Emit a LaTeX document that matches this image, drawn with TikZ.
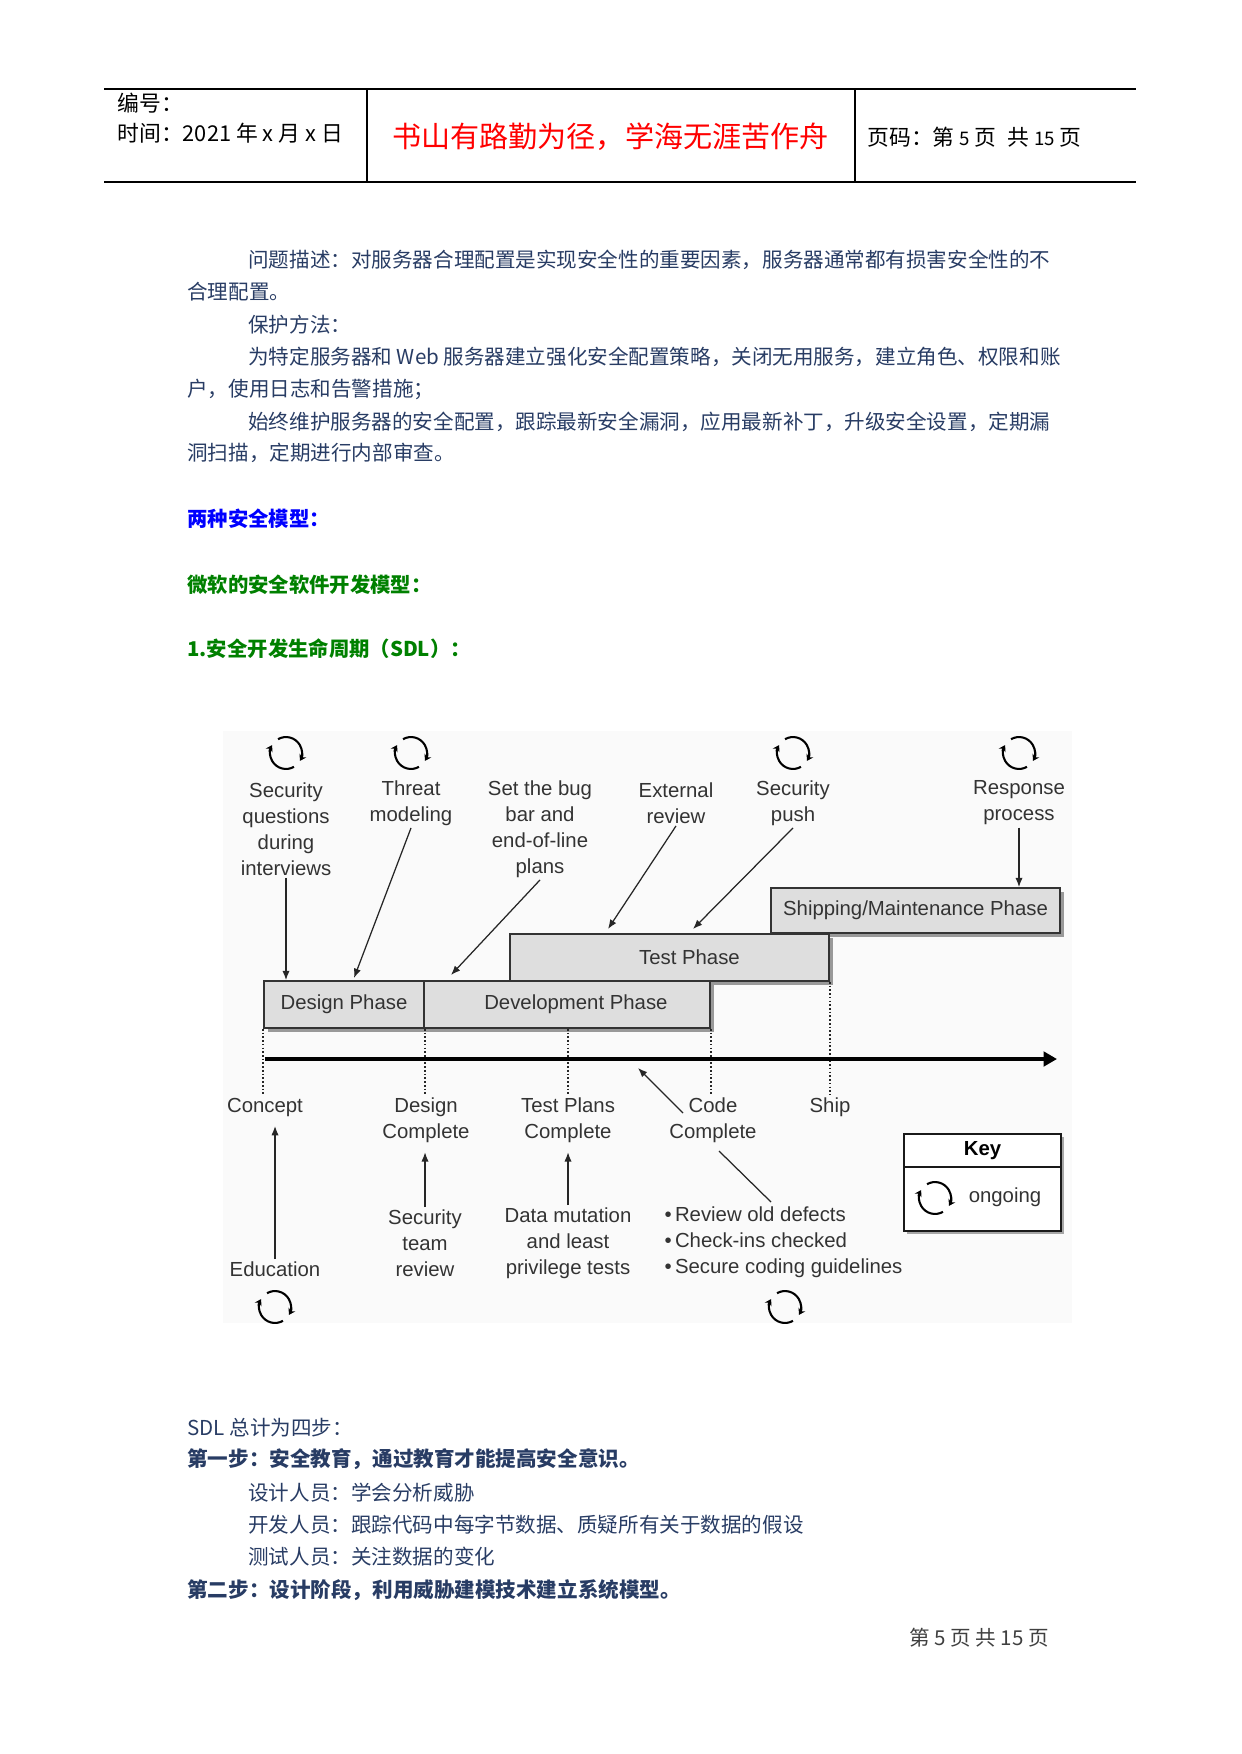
\documentclass[tikz,border=0pt]{standalone}
\usepackage{fontspec}
\setmainfont{Liberation Sans}
\newfontfamily\cjk{Noto Sans CJK SC}
\usetikzlibrary{arrows.meta,fit,shadows}
\definecolor{bodyblue}{RGB}{40,60,100}
\definecolor{mottored}{RGB}{255,0,0}
\definecolor{headblue}{RGB}{0,0,255}
\definecolor{headgreen}{RGB}{0,128,0}

\begin{document}
\begin{tikzpicture}
[
x=0.016922cm, y=-0.016922cm,
hdr/.style={font=\cjk\fontsize{10.5}{13}\selectfont, anchor=west, inner sep=0pt},
para/.style={font=\cjk\fontsize{9.9}{12}\selectfont, text=bodyblue, anchor=west, inner sep=0pt},
parab/.style={para, font=\cjk\bfseries\fontsize{9.9}{12}\selectfont},
head/.style={font=\cjk\bfseries\fontsize{9.8}{12}\selectfont, anchor=west, inner sep=0pt},
lbl/.style={font=\fontsize{9.8}{12.5}\selectfont, text=black!80, align=center, inner sep=1pt},
phasetxt/.style={font=\fontsize{9.8}{12}\selectfont, text=black!80},
phase/.style={draw=black!80, line width=0.8pt, fill=black!13, inner sep=0pt,
  drop shadow={shadow xshift=1.8pt, shadow yshift=-1.8pt, fill=black!40, opacity=1}},
keybox/.style={draw=black!90, line width=1pt, fill=white, inner sep=0pt,
  drop shadow={shadow xshift=1.5pt, shadow yshift=-1.5pt, fill=black!35, opacity=1}},
arr/.style={-{Latex[length=4.5pt,width=3.5pt]}, line width=0.6pt, draw=black!85},
tick/.style={densely dotted, line width=0.8pt, draw=black!85},
axis/.style={-{Triangle[length=6.5pt,width=7pt]}, line width=2pt},
cycline/.style={-{Stealth[length=3pt,width=3.6pt]}, line width=1pt},
cyc/.pic={
  \draw[cycline] (120:0.27cm) arc[start angle=120, end angle=-30, radius=0.27cm];
  \draw[cycline] (300:0.27cm) arc[start angle=300, end angle=150, radius=0.27cm];
},
]
\useasboundingbox (0,0) rectangle (1241,1754);

% page header
\draw[line width=0.7pt] (104,89) -- (1136,89);
\draw[line width=0.7pt] (104,182) -- (1136,182);
\draw[line width=1pt] (367,89) -- (367,182);
\draw[line width=0.6pt] (855,89) -- (855,182);
\node[hdr] (bianhao) at (117,103) {编号：};
\node[hdr] (shijian) at (117,133) {时间：2021 年 x 月 x 日};
\node[hdr, text=mottored, font=\cjk\fontsize{14}{16}\selectfont] (motto) at (392,137) {书山有路勤为径，学海无涯苦作舟};
\node[hdr] (yema) at (867,137) {页码：第 {\small 5} 页\enspace 共 {\small 15} 页};

% text above the figure
\node[para] (p1) at (248,260) {问题描述：对服务器合理配置是实现安全性的重要因素，服务器通常都有损害安全性的不};
\node[para] (p2) at (187,292) {合理配置。};
\node[para] (p3) at (248,325) {保护方法：};
\node[para] (p4) at (248,357) {为特定服务器和 Web 服务器建立强化安全配置策略，关闭无用服务，建立角色、权限和账};
\node[para] (p5) at (187,389) {户，使用日志和告警措施；};
\node[para] (p6) at (248,422) {始终维护服务器的安全配置，跟踪最新安全漏洞，应用最新补丁，升级安全设置，定期漏};
\node[para] (p7) at (187,453) {洞扫描，定期进行内部审查。};
\node[head, text=headblue] (h1) at (187,519) {两种安全模型：};
\node[head, text=headgreen] (h2) at (187,585) {微软的安全软件开发模型：};
\node[head, text=headgreen] (h3) at (187,649) {1.安全开发生命周期（SDL）：};

% SDL figure
\fill[black!2] (223,731) rectangle (1072,1323);
\pic at (286,753) {cyc};
\pic at (411,753) {cyc};
\pic at (793,753) {cyc};
\pic at (1019,753) {cyc};
\node[lbl] (secq) at (286,829) {Security\\questions\\during\\interviews};
\node[lbl] (threat) at (411,803) {Threat\\modeling};
\node[lbl] (bugbar) at (540,829) {Set the bug\\bar and\\end-of-line\\plans};
\node[lbl] (extrev) at (676,803) {External\\review};
\node[lbl] (secpush) at (793,803) {Security\\push};
\node[lbl] (resp) at (1019,803) {Response\\process};

\node[phase, fit={(771,888) (1060,933)}, label={[phasetxt]center:Shipping/Maintenance Phase}] (ship) {};
\node[phase, fit={(510,934) (829,981)}, label={[phasetxt, xshift=9.6pt]center:Test Phase}] (test) {};
\node[phase, fit={(264,981) (424,1028)}, label={[phasetxt]center:Design Phase}] (design) {};
\node[phase, fit={(424,981) (710,1028)}, label={[phasetxt, xshift=4.3pt]center:Development Phase}] (devel) {};

\coordinate (thrtip) at (354,978);
\coordinate (bugtip) at (451,975);
\coordinate (exttip) at (608,929);
\coordinate (pushtip) at (693,929);
\draw[arr] (secq.south) -- (secq.south |- design.north);
\draw[arr] (threat.south) -- (thrtip);
\draw[arr] (bugbar.south) -- (bugtip);
\draw[arr] (extrev.south) -- (exttip);
\draw[arr] (secpush.south) -- (pushtip);
\draw[arr] (resp.south) -- (resp.south |- ship.north);

% milestones
\node[lbl] (concept) at (265,1107) {Concept};
\node[lbl] (dcomp) at (426,1120) {Design\\Complete};
\node[lbl] (tplans) at (568,1120) {Test Plans\\Complete};
\node[lbl] (ccode) at (713,1120) {Code\\Complete};
\node[lbl] (shipm) at (830,1107) {Ship};
\draw[tick] (design.south west) -- (design.south west |- concept.north);
\draw[tick] (design.south east) -- (design.south east |- dcomp.north);
\draw[tick] (devel.south -| tplans) -- (tplans.north);
\draw[tick] (devel.south east) -- (devel.south east |- ccode.north);
\draw[tick] (test.south east) -- (test.south east |- shipm.north);
\coordinate (t0) at (265,1059);
\coordinate (t1) at (1057,1059);
\draw[axis] (t0) -- (t1);

\node[lbl] (edu) at (275,1269) {Education};
\node[lbl] (steam) at (425,1243) {Security\\team\\review};
\node[lbl] (dmut) at (568,1243) {Data mutation\\and least\\privilege tests};
\node[lbl, align=left, anchor=west] (bullets) at (662,1242) {\textbullet\,Review old defects\\\textbullet\,Check-ins checked\\\textbullet\,Secure coding guidelines};
\pic at (275,1307) {cyc};
\pic at (785,1307) {cyc};
\draw[arr, shorten >=3.5pt] (edu.north) -- (edu.north |- concept.south);
\draw[arr, shorten >=3.5pt] (steam.north) -- (steam.north |- dcomp.south);
\draw[arr, shorten >=3.5pt] (dmut.north) -- (dmut.north |- tplans.south);
\coordinate (codefrom) at (683,1113);
\coordinate (codetip) at (638,1068);
\coordinate (cplfrom) at (719,1151);
\coordinate (cplto) at (771,1202);
\draw[arr] (codefrom) -- (codetip);
\draw[line width=0.6pt, black!85] (cplfrom) -- (cplto);

% key
\node[keybox, fit={(904,1134) (1061,1167)}, label={[font=\bfseries\fontsize{9.8}{12}\selectfont]center:Key}] (keyhd) {};
\node[keybox, fit={(904,1167) (1061,1231)}] (keybd) {};
\pic at (935,1198) {cyc};
\node[lbl] (ongoing) at (1005,1197) {ongoing};

% text below the figure
\node[para] (s0) at (187,1428) {SDL 总计为四步：};
\node[parab] (s1) at (187,1459) {第一步：安全教育，通过教育才能提高安全意识。};
\node[para] (s2) at (248,1493) {设计人员：学会分析威胁};
\node[para] (s3) at (248,1525) {开发人员：跟踪代码中每字节数据、质疑所有关于数据的假设};
\node[para] (s4) at (248,1557) {测试人员：关注数据的变化};
\node[parab] (s5) at (187,1590) {第二步：设计阶段，利用威胁建模技术建立系统模型。};
\node[para, text=black!75, anchor=east] (foot) at (1049,1638) {第 5 页 共 15 页};
\end{tikzpicture}
\end{document}
